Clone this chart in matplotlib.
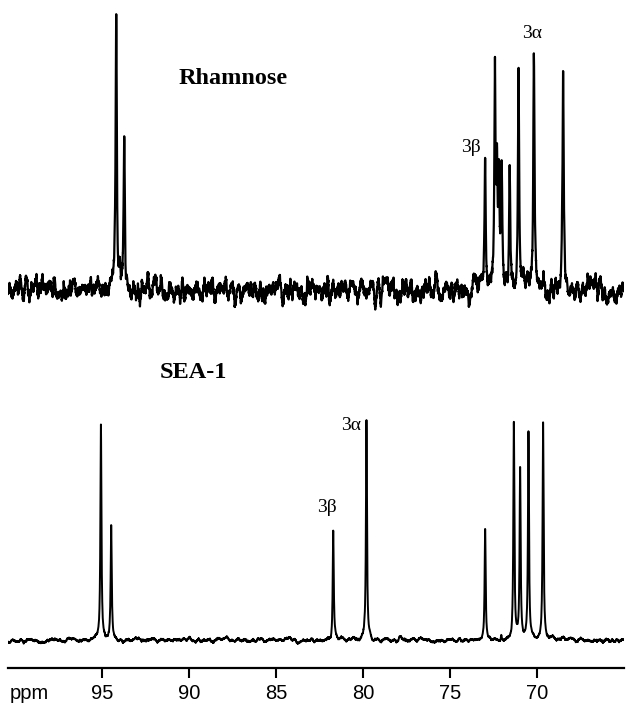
import numpy as np
import matplotlib
matplotlib.use('Agg')
import matplotlib.pyplot as plt

# peak lists (ppm, height in px above baseline)
rham_ppm = [94.18, 93.72, 72.98, 72.42, 72.30, 72.19, 72.03, 71.57, 71.06, 70.18, 68.50]
rham_height = [278, 145, 132, 226, 108, 110, 116, 128, 226, 234, 220]

sea_ppm = [95.06, 94.47, 81.71, 79.80, 72.98, 72.05, 71.33, 70.97, 70.49, 69.65]
sea_height = [218, 112, 110, 221, 111, 6, 218, 170, 208, 216]

tick_ppm = [95, 90, 85, 80, 75, 70]

# baselines of the two traces (px above the axis line)
rham_base = 378
sea_base = 28

x = np.linspace(100.4, 65.0, 9000)


def spectrum(ppm, height, hw):
    y = np.zeros_like(x)
    for p, h in zip(ppm, height):
        y += h / (1 + ((x - p) / hw) ** 2)
    return y


def baseline_noise(seed, amp, k):
    # only a texture for the baseline, not data
    rng = np.random.default_rng(seed)
    n = rng.normal(0, 1, x.size)
    n = np.convolve(n, np.ones(k) / k, mode='same')
    return amp * n / n.std()


y_rham = rham_base + spectrum(rham_ppm, rham_height, 0.04) + baseline_noise(3, 6.0, 28)
y_sea = sea_base + spectrum(sea_ppm, sea_height, 0.035) + baseline_noise(7, 1.2, 45)

fig = plt.figure(figsize=(6.27, 7.04), dpi=100)
ax = fig.add_axes([8 / 627, 36 / 704, 616 / 627, 668 / 704])

ax.plot(x, y_rham, color='black', lw=1.6)
ax.plot(x, y_sea, color='black', lw=1.4)

ax.set_xlim(100.4, 65.0)
ax.set_ylim(0, 668)

for s in ['top', 'left', 'right']:
    ax.spines[s].set_visible(False)
ax.spines['bottom'].set_linewidth(1.6)
ax.set_yticks([])
ax.set_xticks(tick_ppm)
ax.set_xticklabels([str(t) for t in tick_ppm], family='Liberation Sans', fontsize=14.5)
ax.tick_params(axis='x', direction='out', length=7.5, width=1.5, pad=4)

serif = 'Liberation Serif'
ax.text(87.47, 590, 'Rhamnose', family=serif, weight='bold', fontsize=17.5, ha='center', va='center')
ax.text(89.76, 296, 'SEA-1', family=serif, weight='bold', fontsize=17.5, ha='center', va='center')
ax.text(70.26, 635, '3α', family=serif, fontsize=14, ha='center', va='center')
ax.text(73.81, 521, '3β', family=serif, fontsize=14, ha='center', va='center')
ax.text(80.70, 243, '3α', family=serif, fontsize=14, ha='center', va='center')
ax.text(82.08, 160, '3β', family=serif, fontsize=14, ha='center', va='center')

fig.text(10 / 627, 1 - 699 / 704, 'ppm', family='Liberation Sans', fontsize=14.5, va='baseline', ha='left')

fig.savefig('out.png', dpi=100)
